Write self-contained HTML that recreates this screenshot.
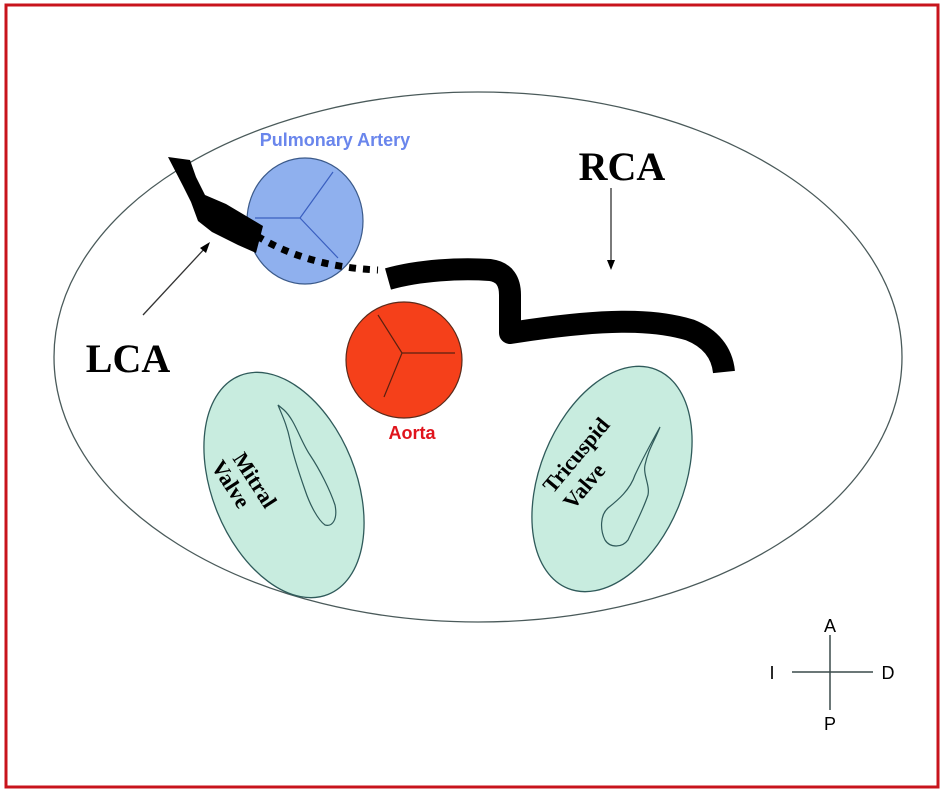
<!DOCTYPE html>
<html><head><meta charset="utf-8"><style>
html,body{margin:0;padding:0;background:#fff}
svg{display:block}
</style></head><body>
<svg width="945" height="794" viewBox="0 0 945 794" xmlns="http://www.w3.org/2000/svg">
<rect x="6" y="5" width="932" height="782" fill="#fff" stroke="#c8141c" stroke-width="3"/>
<ellipse cx="478" cy="357" rx="424" ry="265" fill="#fff" stroke="#4a5a5a" stroke-width="1.3"/>
<!-- valves -->
<ellipse cx="284" cy="485" rx="72" ry="118" transform="rotate(-22 284 485)" fill="#c8ecdf" stroke="#2f5a5a" stroke-width="1.3"/>
<ellipse cx="612" cy="479" rx="72" ry="118" transform="rotate(22 612 479)" fill="#c8ecdf" stroke="#2f5a5a" stroke-width="1.3"/>
<path d="M278,405 L284,410 C295,420 300,440 310,455 C320,470 330,490 335,505 C338,520 332,527 325,525 C318,520 310,505 305,490 C298,470 293,455 290,440 C287,425 282,415 278,405 Z" fill="none" stroke="#2f5a5a" stroke-width="1.2"/>
<path d="M660,427 C655,440 648,450 645,465 C643,475 650,485 648,495 C643,510 635,525 628,540 C622,548 610,548 605,540 C600,530 600,515 608,508 C618,500 630,490 635,475 C642,460 650,445 660,427 Z" fill="none" stroke="#2f5a5a" stroke-width="1.2"/>
<g font-family="Liberation Serif,serif" font-weight="bold" font-size="22" text-anchor="middle" fill="#000" dominant-baseline="central">
<text transform="translate(255,480) rotate(57)">Mitral</text>
<text transform="translate(231,484) rotate(57)">Valve</text>
<text transform="translate(576,455) rotate(-50)">Tricuspid</text>
<text transform="translate(584,486) rotate(-50)">Valve</text>
</g>
<!-- PA -->
<ellipse cx="305" cy="221" rx="58" ry="63" fill="#8fb0ee" stroke="#3b5a8a" stroke-width="1.2"/>
<path d="M300,218 L333,172 M300,218 L255,218 M300,218 L338,258" stroke="#3a5fc0" stroke-width="1.2" fill="none"/>
<!-- Aorta -->
<circle cx="404" cy="360" r="58" fill="#f5401a" stroke="#5a2a1a" stroke-width="1.2"/>
<path d="M402,353 L378,315 M402,353 L455,353 M402,353 L384,397" stroke="#5a2010" stroke-width="1.2" fill="none"/>
<text x="335" y="146" font-family="Liberation Sans,sans-serif" font-weight="bold" font-size="18" fill="#6a86ec" text-anchor="middle">Pulmonary Artery</text>
<text x="412" y="439" font-family="Liberation Sans,sans-serif" font-weight="bold" font-size="18" fill="#e0141c" text-anchor="middle">Aorta</text>
<!-- LCA vessel -->
<path d="M168,157 L190,160 L196,177 L205,195 L226,204 L263,226 L256,253 L238,245 L212,232 L198,221 L191,202 L183,186 Z" fill="#000"/>
<path d="M257,236 C290,256 330,268 378,270" stroke="#000" stroke-width="7" stroke-dasharray="7,7" fill="none"/>
<!-- RCA vessel -->
<path d="M388,279 C420,270 460,268 490,270 C505,272 510,282 510,295 L510,333 L530,330 C600,320 650,318 690,330 C710,338 722,352 724,372" stroke="#000" stroke-width="22" fill="none" stroke-linejoin="round"/>
<!-- arrows -->
<line x1="143" y1="315" x2="207" y2="246" stroke="#333" stroke-width="1.3"/>
<polygon points="210,242 200,248 206,253" fill="#000"/>
<line x1="611" y1="188" x2="611" y2="262" stroke="#333" stroke-width="1.3"/>
<polygon points="611,270 607,260 615,260" fill="#000"/>
<text x="128" y="372" font-family="Liberation Serif,serif" font-weight="bold" font-size="40" text-anchor="middle" fill="#000">LCA</text>
<text x="622" y="180" font-family="Liberation Serif,serif" font-weight="bold" font-size="40" text-anchor="middle" fill="#000">RCA</text>
<!-- compass -->
<line x1="830" y1="635" x2="830" y2="710" stroke="#3a4a4a" stroke-width="1.5"/>
<line x1="792" y1="672" x2="873" y2="672" stroke="#3a4a4a" stroke-width="1.5"/>
<g font-family="Liberation Sans,sans-serif" font-size="18" fill="#000" text-anchor="middle">
<text x="830" y="632">A</text>
<text x="772" y="679">I</text>
<text x="888" y="679">D</text>
<text x="830" y="730">P</text>
</g>
</svg>
</body></html>
